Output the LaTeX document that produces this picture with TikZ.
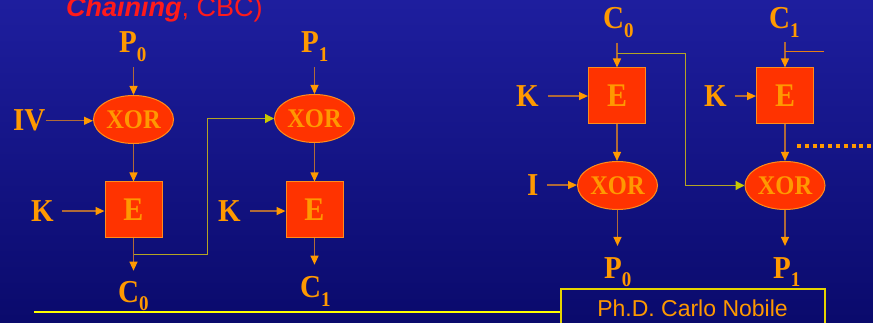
\documentclass[tikz,border=0pt]{standalone}
\usepackage{fontspec}
\usepackage{graphicx}
\setmainfont{Liberation Serif}
\newfontfamily\arialfont{Liberation Sans}
\usetikzlibrary{shapes.geometric,arrows.meta}

\definecolor{bgtop}{HTML}{1E1E9E}
\definecolor{bgbot}{HTML}{0A0A6C}
\definecolor{labelorange}{HTML}{FF9900}
\definecolor{redfill}{HTML}{FF3300}
\definecolor{edgecol}{HTML}{FF8C1A}
\definecolor{wirecol}{HTML}{B06A38}
\definecolor{tipcol}{HTML}{FF9900}
\definecolor{fbcol}{HTML}{B4A424}
\definecolor{fbtip}{HTML}{C8C800}
\definecolor{rulecol}{HTML}{FFFF00}
\definecolor{footcol}{HTML}{E6D400}
\definecolor{titlered}{HTML}{FF1A1A}

% tall serif lettering used by all labels
\newcommand\tallbox[1]{\scalebox{1}[1.1]{#1}}
\newcommand\subtxt[1]{\raisebox{-8pt}{\fontsize{19}{19}\selectfont #1}}
\newcommand\lblfont{\fontsize{29}{29}\selectfont\bfseries}

\tikzset{
  lab/.style={anchor=base west, inner sep=0pt, text=labelorange, font=\lblfont},
  xorbox/.style={ellipse, draw=edgecol, fill=redfill, line width=1pt,
    minimum width=80pt, minimum height=48pt, inner sep=0pt,
    text=labelorange, font=\fontsize{24.5}{24.5}\selectfont\bfseries},
  ebox/.style={rectangle, draw=edgecol, fill=redfill, line width=1pt,
    minimum width=57pt, minimum height=56pt, inner sep=0pt,
    text=labelorange, font=\fontsize{30}{30}\selectfont\bfseries},
  wire/.style={draw=wirecol, line width=1.3pt,
    -{Triangle[length=9pt,width=8pt,color=tipcol]}},
  fb/.style={draw=fbcol, line width=1.3pt,
    -{Triangle[length=9pt,width=9pt,color=fbtip]}},
  branch/.style={draw=edgecol!90!black, line width=1.3pt},
  dotline/.style={draw=labelorange, line width=4pt, dash pattern=on 4pt off 3.8pt},
}

\begin{document}
\begin{tikzpicture}[x=1pt,y=-1pt]
  \clip (0,0) rectangle (873,323);
  \useasboundingbox (0,0) rectangle (873,323);
  \shade[top color=bgtop, bottom color=bgbot] (0,0) rectangle (873,323);

  % heading line
  \node[anchor=base west, inner sep=0pt, text=titlered,
        font=\arialfont\fontsize{27}{27}\selectfont] (title) at (66,17)
        {\textbf{\textit{Chaining}}, CBC)};

  % ---------------- encryption chain ----------------
  \node[xorbox] (x1) at (133.5,119.5) {\tallbox{XOR}};
  \node[ebox]   (e1) at (133.5,210)   {\tallbox{E}};
  \node[xorbox] (x2) at (314.5,118.5) {\tallbox{XOR}};
  \node[ebox]   (e2) at (314.5,210)   {\tallbox{E}};

  \node[lab] (p0l) at (119,53)   {\tallbox{P\subtxt{0}}};
  \node[lab] (p1l) at (301,53)   {\tallbox{P\subtxt{1}}};
  \node[lab] (ivl) at (13,131)   {\tallbox{IV}};
  \node[lab] (k1)  at (31,221.5) {\tallbox{K}};
  \node[lab] (k2)  at (218,221.5){\tallbox{K}};
  \node[lab] (c0l) at (118,302)  {\tallbox{C\subtxt{0}}};
  \node[lab] (c1l) at (300,298)  {\tallbox{C\subtxt{1}}};

  \draw[wire, shorten <=5pt] (p0l.south -| x1.north) -- (x1.north);
  \draw[wire, shorten <=5pt] (p1l.south -| x2.north) -- (x2.north);
  \draw[wire] (ivl.east) -- (ivl.east -| x1.west);
  \draw[wire] (x1.south) -- (e1.north);
  \draw[wire] (x2.south) -- (e2.north);
  \draw[wire, shorten <=8pt] (k1.east) -- (k1.east -| e1.west);
  \draw[wire, shorten <=9pt] (k2.east) -- (k2.east -| e2.west);
  \draw[wire, shorten >=10pt] (e1.south) -- (e1.south |- c0l.north);
  \draw[wire, shorten >=12pt] (e2.south) -- (e2.south |- c1l.north);

  % C0 fed forward into the next XOR
  \path (e1.south) ++(0,16) coordinate (b1);
  \draw[fb] (b1) -- ++(74,0) |- (x2.west);

  % ---------------- decryption chain ----------------
  \node[ebox]   (e3) at (617,96)    {\tallbox{E}};
  \node[xorbox] (x3) at (617.5,185.5) {\tallbox{XOR}};
  \node[ebox]   (e4) at (785,96)    {\tallbox{E}};
  \node[xorbox] (x4) at (785,185.5) {\tallbox{XOR}};

  \node[lab] (c0r) at (603,28.5)  {\tallbox{C\subtxt{0}}};
  \node[lab] (c1r) at (769,28.5)  {\tallbox{C\subtxt{1}}};
  \node[lab] (k3)  at (516,106.5) {\tallbox{K}};
  \node[lab] (k4)  at (704,106.5) {\tallbox{K}};
  \node[lab] (il)  at (527,195.5) {\tallbox{I}};
  \node[lab] (p0r) at (604,278)   {\tallbox{P\subtxt{0}}};
  \node[lab] (p1r) at (773,278)   {\tallbox{P\subtxt{1}}};

  \draw[wire, shorten <=5pt] (c0r.south -| e3.north) -- (e3.north);
  \draw[wire, shorten <=5pt] (c1r.south -| e4.north) -- (e4.north);
  \draw[wire, shorten <=9pt] (k3.east) -- (k3.east -| e3.west);
  \draw[wire, shorten <=8pt] (k4.east) -- (k4.east -| e4.west);
  \draw[wire] (e3.south) -- (e3.south |- x3.north);
  \draw[wire] (e4.south) -- (x4.north);
  \draw[wire, shorten <=8pt] (il.east) -- (il.east -| x3.west);
  \draw[wire, shorten >=11pt] (x3.south) -- (x3.south |- p0r.north);
  \draw[wire, shorten >=11pt] (x4.south) -- (x4.south |- p1r.north);

  % C0 taken over to the second XOR
  \path (e3.north) ++(0,-14) coordinate (b3);
  \draw[fb] (b3) -- ++(68.7,0) |- (x4.west);

  % C1 branching on to the following stage
  \path (e4.north) ++(0,-16) coordinate (b4);
  \draw[branch] (b4) -- ++(39,0);

  % continuation dots
  \coordinate (dots) at (797,146);
  \draw[dotline] (dots) -- ++(78,0);

  % footer
  \node[draw=footcol, line width=1.2pt, minimum width=264pt, minimum height=42pt,
        inner sep=0pt] (foot) at (693,310) {};
  \node[anchor=base, inner sep=0pt, text=labelorange,
        font=\arialfont\fontsize{23}{23}\selectfont] (footer) at (692.5,316)
        {Ph.D. Carlo Nobile};
  \coordinate (rule) at (34,312);
  \draw[draw=rulecol, line width=1.2pt] (rule) -- (rule -| foot.west);
\end{tikzpicture}
\end{document}
